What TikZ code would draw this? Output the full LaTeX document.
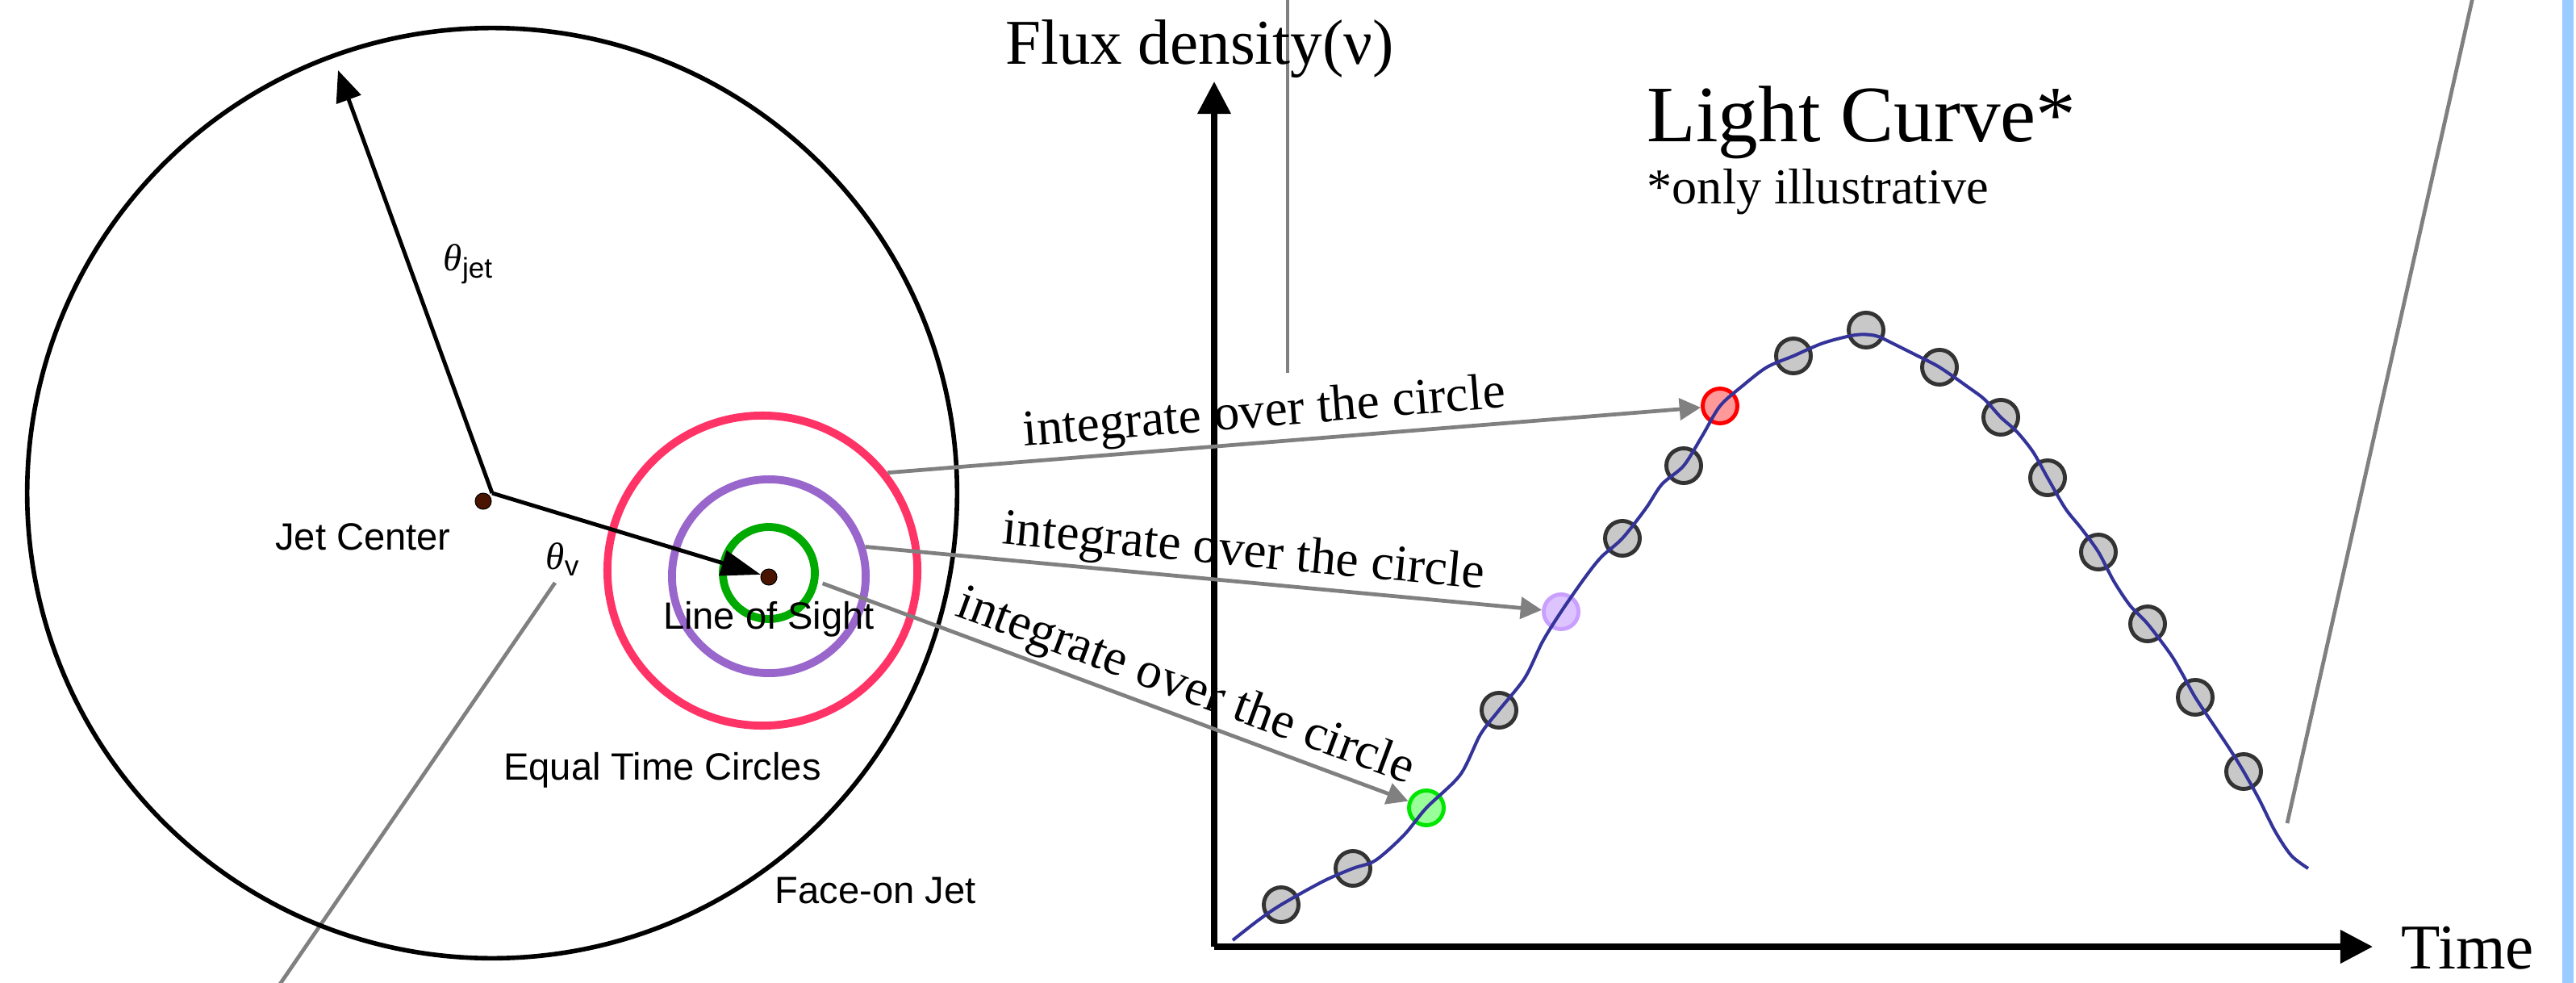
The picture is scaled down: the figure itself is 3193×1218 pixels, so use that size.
\documentclass[tikz,border=0pt]{standalone}
\usepackage{fontspec}
\setmainfont{Liberation Serif}
\setsansfont{Liberation Sans}
\usetikzlibrary{arrows.meta}
\definecolor{ringred}{HTML}{FF3366}
\definecolor{ringpurple}{HTML}{9966CC}
\definecolor{ringgreen}{HTML}{00AA00}
\definecolor{dotbrown}{HTML}{4A1500}
\definecolor{curveblue}{HTML}{333399}
\definecolor{linegray}{HTML}{808080}
\definecolor{barblue}{HTML}{99CCFF}
\definecolor{mkgrayfill}{HTML}{C8C8C8}
\definecolor{mkgraydraw}{HTML}{333333}
\definecolor{mkredfill}{HTML}{FF9999}
\definecolor{mkpurfill}{HTML}{DDC4FF}
\definecolor{mkpurdraw}{HTML}{C9A0FF}
\definecolor{mkgrnfill}{HTML}{99FF99}
\definecolor{mkgrndraw}{HTML}{00E600}
\begin{document}
\begin{tikzpicture}[x=0.01cm,y=-0.01cm,
  ring/.style={circle, line width=2.8pt, inner sep=0pt},
  dotn/.style={circle, fill=dotbrown, draw=black, line width=0.3pt, minimum size=0.2cm, inner sep=0pt},
  sanslab/.style={font=\sffamily\fontsize{13.4}{16}\selectfont, inner sep=0pt},
  blackarrow/.style={line width=1.4pt, -{Triangle[length=11pt,width=9pt]}},
  blackarrowb/.style={line width=1.4pt, -{Triangle[length=14pt,width=9pt]}},
  grayline/.style={draw=linegray, line width=1.35pt},
  grayarrow/.style={draw=linegray, line width=1.35pt, -{Triangle[length=7.5pt,width=7.6pt,fill=linegray]}},
  axisline/.style={line width=2pt, -{Triangle[length=11.4pt,width=11.4pt]}},
  intlab/.style={sloped, above, inner sep=1pt, font=\fontsize{18}{20}\selectfont},
  mk/.style={circle, line width=1.4pt, inner sep=0pt, minimum size=0.43cm},
  mkgray/.style={mk, draw=mkgraydraw, fill=mkgrayfill},
]
\useasboundingbox (0,0) rectangle (3193,1218);
\fill[white] (0,0) rectangle (3193,1218);

% background gray lines
\draw[grayline] (688,722) -- (326,1250);
\draw[grayline] (1596,0) -- (1596,462);
\draw[grayline] (3071,-30) -- (2835,1020);

% face-on jet
\node[circle, draw, line width=1.6pt, minimum size=11.52cm, inner sep=0pt] (bigc) at (610,611) {};
\node[ring, draw=ringred, minimum size=3.84cm] (redring) at (945,707) {};
\node[ring, draw=ringpurple, minimum size=2.40cm] (purring) at (953,714) {};
\node[ring, draw=ringgreen, minimum size=1.14cm] (grnring) at (953,710) {};

\node[dotn] (jc) at (599,621) {};
\node[dotn] (los) at (953,715) {};
\coordinate (jettip) at (419,87);
\draw[blackarrow] (bigc.center) -- (jettip);
\draw[blackarrowb] (bigc.center) -- (los);

\node[sanslab] (jclab) at (450,665) {Jet Center};
\node[sanslab] (thjet) at (580,327) {{\rmfamily\itshape θ}\raisebox{-0.35ex}{\fontsize{10}{12}\selectfont jet}};
\node[sanslab] (thv) at (697,693) {{\rmfamily\itshape θ}\raisebox{-0.35ex}{\fontsize{10}{12}\selectfont v}};
\node[sanslab] (loslab) at (953,767) {Line of Sight};
\node[sanslab] (eqlab) at (821,954) {Equal Time Circles};
\node[sanslab] (facelab) at (1085,1104) {Face-on Jet};

% axes
\coordinate (O) at (1505,1173);
\coordinate (ytop) at (1505,101);
\coordinate (xend) at (2941,1173);
\draw[axisline] (O) -- (ytop);
\draw[axisline] (O) -- (xend);

\node[anchor=base, inner sep=0pt, font=\fontsize{22.5}{25}\selectfont] (flux) at (1487,80) {Flux density(ν)};
\node[anchor=base west, inner sep=0pt, font=\fontsize{28.2}{31}\selectfont] (lc) at (2041,175) {Light Curve*};
\node[anchor=base west, inner sep=0pt, font=\fontsize{17.7}{20}\selectfont] (ill) at (2041,252) {*only illustrative};
\node[anchor=base west, inner sep=0pt, font=\fontsize{22.5}{25}\selectfont] (time) at (2976,1200) {Time};

% markers
\node[mkgray] (m1) at (1588,1121) {};
\node[mkgray] (m2) at (1677,1076) {};
\node[mk, draw=mkgrndraw, fill=mkgrnfill] (grnmk) at (1768,1001) {};
\node[mkgray] (m3) at (1858,880) {};
\node[mk, draw=mkpurdraw, fill=mkpurfill] (purmk) at (1935,758) {};
\node[mkgray] (m4) at (2011,667) {};
\node[mkgray] (m5) at (2087,577) {};
\node[mk, draw=red, fill=mkredfill] (redmk) at (2132,503) {};
\node[mkgray] (m6) at (2223,441) {};
\node[mkgray] (m7) at (2313,409) {};
\node[mkgray] (m8) at (2404,455) {};
\node[mkgray] (m9) at (2480,517) {};
\node[mkgray] (m10) at (2538,592) {};
\node[mkgray] (m11) at (2601,684) {};
\node[mkgray] (m12) at (2662,773) {};
\node[mkgray] (m13) at (2721,864) {};
\node[mkgray] (m14) at (2781,956) {};

% light curve
\draw[curveblue, line width=1.15pt] plot[smooth, tension=0.5] coordinates {
(1528,1165) (1560,1140) (1588,1121) (1640,1092) (1677,1076) (1705,1066) (1740,1035) (1768,1001)
(1810,960) (1835,910) (1858,880) (1890,840) (1912,795) (1935,758) (1965,715) (1985,690)
(2011,667) (2040,630) (2060,600) (2087,577) (2110,540) (2132,503) (2160,478) (2190,455)
(2223,441) (2260,425) (2300,415) (2325,416) (2345,425) (2375,440) (2404,455) (2440,480)
(2460,495) (2480,517) (2500,535) (2520,560) (2538,592) (2560,630) (2580,655) (2601,684)
(2620,720) (2640,750) (2662,773) (2690,810) (2705,835) (2721,864) (2745,900) (2765,930)
(2781,956) (2800,990) (2820,1030) (2840,1060) (2861,1076)};

% integrate arrows
\draw[grayarrow] (redring.38.7) -- node[intlab, pos=0.466]{integrate over the circle} (redmk);
\draw[grayarrow] (purring.17.7) -- node[intlab, pos=0.555]{integrate over the circle} (purmk);
\draw[grayarrow, shorten <=1.7pt] (grnring.-10) -- node[intlab, pos=0.605]{integrate over the circle} (grnmk);

% right blue bar
\fill[barblue] (3176,0) rectangle (3190,1218);
\end{tikzpicture}
\end{document}
